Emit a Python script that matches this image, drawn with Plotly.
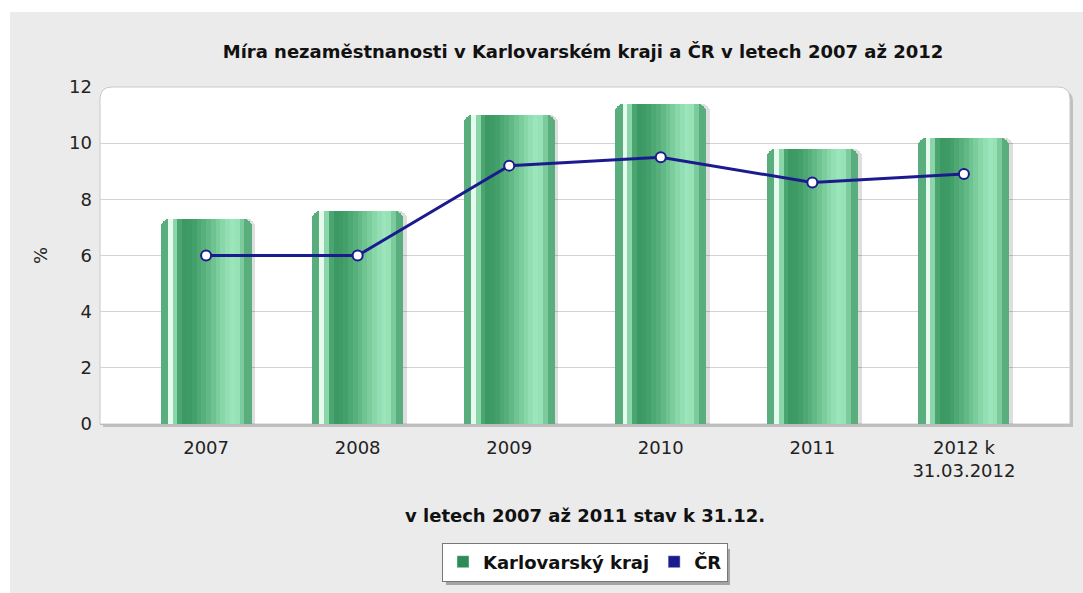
import plotly.graph_objects as go

categories = ["2007", "2008", "2009", "2010", "2011", "2012 k<br>31.03.2012"]
karlovarsky = [7.3, 7.6, 11.0, 11.4, 9.8, 10.2]
cr = [6.0, 6.0, 9.2, 9.5, 8.6, 8.9]
y_ticks = [0, 2, 4, 6, 8, 10, 12]

title_text = "Míra nezaměstnanosti v Karlovarském kraji a ČR v letech 2007 až 2012"
x_title_text = "v letech 2007 až 2011 stav k 31.12."
name_k = "Karlovarský kraj"
name_cr = "ČR"

W, H = 1083, 593
ML, MR, MT, MB = 100, 13, 87, 169
PW, PH = W - ML - MR, H - MT - MB

def px_to_paper_x(px):
    return (px - ML) / PW

def px_to_paper_y(py):
    return (H - MB - py) / PH

BAR_W = 0.6
stripe_colors = ["#e6fbee", "#8ad6a9", "#4aa570", "#3d9964", "#3f9b66", "#44a06b",
                 "#4da873", "#57b07c", "#62b986", "#6ec390", "#7bcd9c", "#88d7a8",
                 "#93dfb3", "#9be5ba", "#97e1b6", "#7ccb9d"]

FONT = "DejaVu Sans, Verdana, sans-serif"

fig = go.Figure()

# shadow of bars
fig.add_trace(go.Bar(x=categories, y=karlovarsky, width=BAR_W, offset=-BAR_W / 2 + 0.025,
                     marker=dict(color="rgba(0,0,0,0.13)", line=dict(width=0), cornerradius=8),
                     showlegend=False, hoverinfo="skip"))
# base bar
fig.add_trace(go.Bar(x=categories, y=karlovarsky, width=BAR_W, offset=-BAR_W / 2,
                     marker=dict(color="#5aae7e", line=dict(width=0), cornerradius=8),
                     showlegend=False, hoverinfo="skip"))
# cylinder shading stripes
n = len(stripe_colors)
start = 0.08
sw = (1 - 2 * start) / n
for i, c in enumerate(stripe_colors):
    fig.add_trace(go.Bar(x=categories, y=karlovarsky, width=BAR_W * sw * 1.02,
                         offset=-BAR_W / 2 + BAR_W * (start + i * sw),
                         marker=dict(color=c, line=dict(width=0)),
                         showlegend=False, hoverinfo="skip"))

fig.add_trace(go.Scatter(x=categories, y=cr, mode="lines+markers",
                         line=dict(color="#1b1b8f", width=3),
                         marker=dict(size=10, color="white", line=dict(color="#1b1b8f", width=2)),
                         showlegend=False, hoverinfo="skip"))

# legend entries
fig.add_trace(go.Bar(x=[None], y=[None], name=name_k, marker=dict(color="#2e8b57")))
fig.add_trace(go.Bar(x=[None], y=[None], name=name_cr, marker=dict(color="#1a1a8c")))

x0, x1 = 0, 1
y0, y1 = 0, 1
rx = 12 / PW
ry = 12 / PH
plot_path = (f"M {x0},{y0} L {x0},{y1 - ry} Q {x0},{y1} {x0 + rx},{y1} "
             f"L {x1 - rx},{y1} Q {x1},{y1} {x1},{y1 - ry} L {x1},{y0} Z")
sx, sy = 3 / PW, 3 / PH
shadow_path = (f"M {x0 + sx},{y0 - sy} L {x0 + sx},{y1 - ry - sy} Q {x0 + sx},{y1 - sy} {x0 + rx + sx},{y1 - sy} "
               f"L {x1 - rx + sx},{y1 - sy} Q {x1 + sx},{y1 - sy} {x1 + sx},{y1 - ry - sy} L {x1 + sx},{y0 - sy} Z")

shapes = [
    dict(type="rect", xref="paper", yref="paper",
         x0=px_to_paper_x(10), x1=px_to_paper_x(W), y0=px_to_paper_y(H), y1=px_to_paper_y(12),
         fillcolor="#ebebeb", line=dict(width=0), layer="below"),
    dict(type="path", xref="paper", yref="paper", path=shadow_path,
         fillcolor="rgba(0,0,0,0.18)", line=dict(width=0), layer="below"),
    dict(type="path", xref="paper", yref="paper", path=plot_path,
         fillcolor="white", line=dict(color="#c8c8c8", width=1), layer="below"),
    # legend shadow
    dict(type="rect", xref="paper", yref="paper",
         x0=px_to_paper_x(446), x1=px_to_paper_x(730), y0=px_to_paper_y(585), y1=px_to_paper_y(549),
         fillcolor="rgba(0,0,0,0.3)", line=dict(width=0), layer="below"),
]

fig.update_layout(
    width=W, height=H,
    margin=dict(l=ML, r=MR, t=MT, b=MB),
    paper_bgcolor="white",
    plot_bgcolor="rgba(0,0,0,0)",
    barmode="overlay",
    bargap=0,
    font=dict(family=FONT, size=18, color="#222"),
    title=dict(text=f"<b>{title_text}</b>", x=px_to_paper_x(583), xref="paper",
               xanchor="center", y=1 - 52 / H, yanchor="middle",
               font=dict(family=FONT, size=18, color="#111")),
    shapes=shapes,
    showlegend=True,
    legend=dict(orientation="h", x=px_to_paper_x(585), xanchor="center", y=px_to_paper_y(562), yanchor="middle",
                bgcolor="white", bordercolor="#777", borderwidth=1,
                font=dict(family=FONT, size=18, color="#111", weight="bold"),
                traceorder="normal", itemwidth=30),
    annotations=[dict(text=f"<b>{x_title_text}</b>", xref="paper", yref="paper",
                      x=px_to_paper_x(585), y=px_to_paper_y(515), showarrow=False,
                      xanchor="center", yanchor="middle",
                      font=dict(family=FONT, size=18, color="#111"))],
)

fig.update_xaxes(type="category", range=[-0.7, 5.7], showgrid=False, zeroline=False,
                 showline=True, linecolor="#bdbdbd", ticks="", ticklabelstandoff=7,
                 tickfont=dict(size=18, color="#222"))
fig.update_yaxes(range=[0, 12], tickvals=y_ticks, showgrid=True, gridcolor="#d2d2d2",
                 gridwidth=1, zeroline=False, showline=False, ticks="",
                 tickfont=dict(size=18, color="#222"), ticklabelstandoff=7,
                 title=dict(text="%", standoff=16, font=dict(size=18, color="#222")))

fig.write_html("out.html")
